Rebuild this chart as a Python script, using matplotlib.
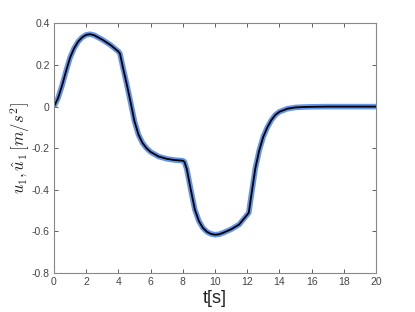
import matplotlib
matplotlib.use('Agg')
import matplotlib.pyplot as plt
import numpy as np

# time samples [s] and acceleration values
t = [0, 0.25, 0.5, 0.75, 1.0, 1.25, 1.5, 1.75, 2.0, 2.25, 2.5, 3.0, 3.5,
     4.0, 4.1, 4.25, 4.5, 4.75, 5.0, 5.25, 5.5, 5.75, 6.0, 6.5, 7.0, 7.5,
     8.0, 8.1, 8.25, 8.5, 8.75, 9.0, 9.25, 9.5, 9.75, 10.0, 10.25, 10.5,
     11.0, 11.5, 12.0, 12.1, 12.25, 12.5, 12.75, 13.0, 13.25, 13.5, 13.75,
     14.0, 14.5, 15.0, 15.5, 16.0, 17.0, 18.0, 19.0, 20.0]
u1 = [0.0, 0.04, 0.10, 0.17, 0.235, 0.28, 0.312, 0.333, 0.345, 0.348, 0.343,
      0.322, 0.297, 0.265, 0.255, 0.20, 0.115, 0.025, -0.07, -0.135, -0.175,
      -0.20, -0.218, -0.24, -0.251, -0.257, -0.26, -0.265, -0.30, -0.40,
      -0.495, -0.55, -0.583, -0.602, -0.612, -0.616, -0.614, -0.607, -0.59,
      -0.567, -0.52, -0.51, -0.43, -0.30, -0.21, -0.145, -0.10, -0.065,
      -0.04, -0.025, -0.01, -0.004, -0.002, -0.001, 0.0, 0.0, 0.0, 0.0]

xticks = [0, 2, 4, 6, 8, 10, 12, 14, 16, 18, 20]
yticks = [-0.8, -0.6, -0.4, -0.2, 0, 0.2, 0.4]
ytick_labels = ['-0.8', '-0.6', '-0.4', '-0.2', '0', '0.2', '0.4']

plt.rcParams['mathtext.fontset'] = 'cm'

fig = plt.figure(figsize=(4.15, 3.12), dpi=100)
ax = fig.add_axes([0.130, 0.125, 0.776, 0.800])

# measured signal (blue band) and estimate (black)
ax.plot(t, u1, color='#6495ED', linewidth=4.0, solid_capstyle='butt')
ax.plot(t, u1, color='black', linewidth=1.3)

ax.set_xlim(0, 20)
ax.set_ylim(-0.8, 0.4)
ax.set_xticks(xticks)
ax.set_xticklabels([str(v) for v in xticks])
ax.set_yticks(yticks)
ax.set_yticklabels(ytick_labels)

ax.tick_params(direction='in', length=3, width=0.6, colors='#444444',
               labelsize=7.5, top=True, right=True, pad=3)
for lab in ax.get_xticklabels() + ax.get_yticklabels():
    lab.set_family('Liberation Sans')
for sp in ax.spines.values():
    sp.set_color('#888888')
    sp.set_linewidth(0.8)

ax.set_xlabel('t[s]', fontsize=13, family='Liberation Sans', color='#222222',
              labelpad=2)
ax.set_ylabel(r'$u_1, \hat{u}_1\,[m/s^2]$', fontsize=12, color='#222222',
              labelpad=0)

fig.savefig('out.png', dpi=100)
